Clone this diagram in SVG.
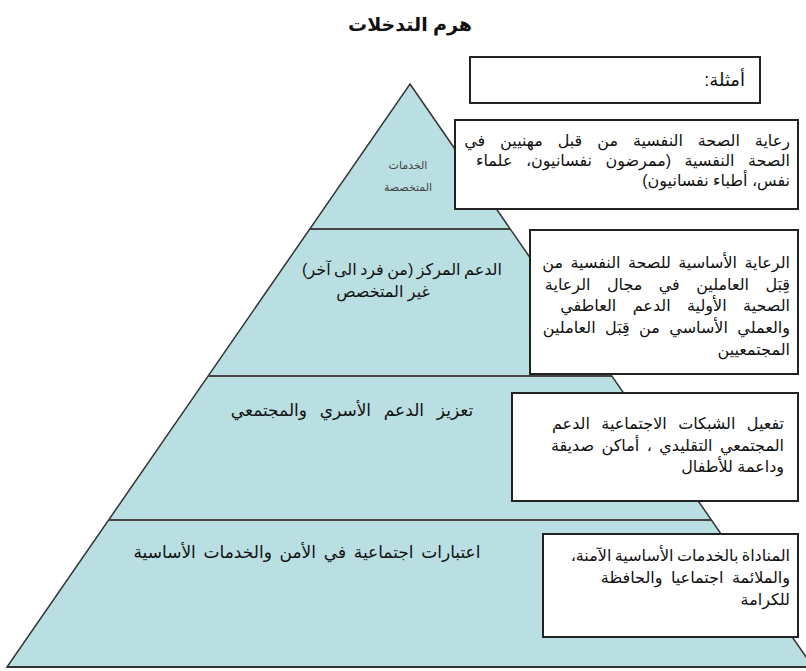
<svg xmlns="http://www.w3.org/2000/svg" width="806" height="671" viewBox="0 0 806 671">
<style>
text{font-family:"Liberation Sans","DejaVu Sans",sans-serif;fill:#111;}
.t{font-size:16px;direction:rtl;unicode-bidi:embed;}
.c{text-anchor:middle;}
.r{text-anchor:start;}
.box{fill:#fff;stroke:#222;stroke-width:2;}
.band{stroke:#444;stroke-width:2;fill:none;}
</style>
<rect width="806" height="671" fill="#fff"/>
<text x="410" y="31" class="t c" style="font-size:19px;font-weight:bold">هرم التدخلات</text>
<g id="pyramid">
<polygon points="410,84 813,667 7,667" fill="#b9dfe2" stroke="#333" stroke-width="1.5"/>
</g>
<g id="connectors">
<line class="band" x1="310" y1="229" x2="510" y2="229"/>
<line class="band" x1="208" y1="376" x2="612" y2="376"/>
<line class="band" x1="109" y1="520" x2="711" y2="520"/>
<line x1="7" y1="667" x2="806" y2="667" stroke="#333" stroke-width="2"/>
</g>
<g id="level1">
<text x="408" y="169" class="t c" style="font-size:11px;fill:#444">الخدمات</text>
<text x="408" y="191" class="t c" style="font-size:11px;fill:#444">المتخصصة</text>
</g>
<g id="level2">
<text x="402" y="275" class="t c" style="word-spacing:-1px">الدعم المركز (من فرد الى آخر)</text>
<text x="383" y="297" class="t c">غير المتخصص</text>
</g>
<g id="level3">
<text x="352" y="416" class="t c" style="font-size:17px;word-spacing:8px">تعزيز الدعم الأسري والمجتمعي</text>
</g>
<g id="level4">
<text x="307" y="558" class="t c" style="font-size:17px;word-spacing:3px">اعتبارات اجتماعية في الأمن والخدمات الأساسية</text>
</g>
<g id="examples">
<rect class="box" x="470" y="57" width="290" height="46"/>
<text x="745" y="86" class="t r" style="font-size:18px">أمثلة:</text>
</g>
<g id="ex1">
<rect class="box" x="455" y="120" width="343" height="89"/>
<text x="790" y="146" class="t r" style="word-spacing:10.5px">رعاية الصحة النفسية من قبل مهنيين في</text>
<text x="790" y="166" class="t r" style="word-spacing:9px">الصحة النفسية (ممرضون نفسانيون، علماء</text>
<text x="790" y="186" class="t r">نفس، أطباء نفسانيون)</text>
</g>
<g id="ex2">
<rect class="box" x="530" y="230" width="268" height="144"/>
<text x="790" y="268" class="t r" style="word-spacing:3px">الرعاية الأساسية للصحة النفسية من</text>
<text x="790" y="290" class="t r" style="word-spacing:12px">قِبَل العاملين في مجال الرعاية</text>
<text x="790" y="311" class="t r" style="word-spacing:12px">الصحية الأولية الدعم العاطفي</text>
<text x="790" y="333" class="t r" style="word-spacing:5px">والعملي الأساسي من قِبَل العاملين</text>
<text x="790" y="355" class="t r">المجتمعيين</text>
</g>
<g id="ex3">
<rect class="box" x="512" y="393" width="286" height="108"/>
<text x="784" y="429" class="t r" style="word-spacing:7px">تفعيل الشبكات الاجتماعية الدعم</text>
<text x="784" y="451" class="t r" style="word-spacing:3px">المجتمعي التقليدي ،  أماكن صديقة</text>
<text x="784" y="472" class="t r">وداعمة للأطفال</text>
</g>
<g id="ex4">
<rect class="box" x="543" y="534" width="255" height="103"/>
<text x="790" y="561" class="t r" style="word-spacing:-1px">المناداة بالخدمات الأساسية الآمنة،</text>
<text x="790" y="583" class="t r" style="word-spacing:4px">والملائمة اجتماعيا والحافظة</text>
<text x="790" y="605" class="t r">للكرامة</text>
</g>
</svg>
